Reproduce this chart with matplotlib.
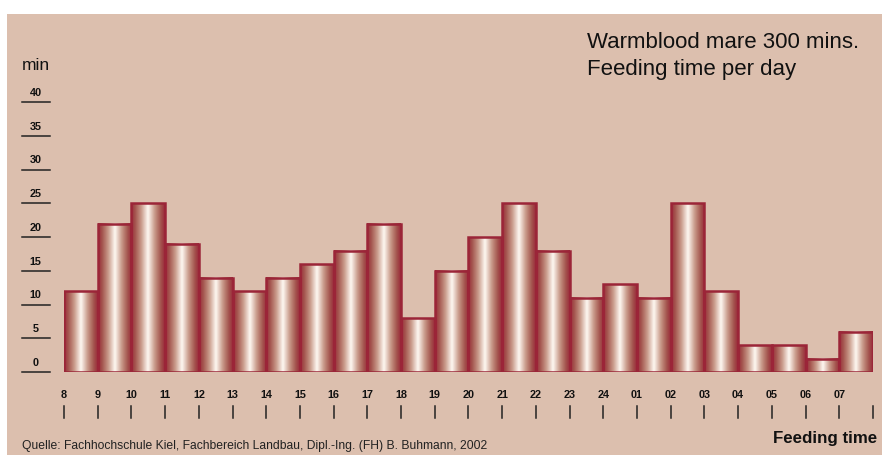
import numpy as np
import matplotlib
matplotlib.use('Agg')
import matplotlib.pyplot as plt
from matplotlib.colors import LinearSegmentedColormap
from matplotlib.patches import Rectangle
import matplotlib.transforms as mtransforms

# Daten: Fresszeit pro Stunde (Minuten)
hours = ['8', '9', '10', '11', '12', '13', '14', '15', '16', '17', '18', '19',
         '20', '21', '22', '23', '24', '01', '02', '03', '04', '05', '06', '07']
minutes = [12, 22, 25, 19, 14, 12, 14, 16, 18, 22, 8, 15,
           20, 25, 18, 11, 13, 11, 25, 12, 4, 4, 2, 6]
yticks = [0, 5, 10, 15, 20, 25, 30, 35, 40]

bg = '#dcbfae'
edge = '#9b2538'
grad = LinearSegmentedColormap.from_list('bar', [
    (0.0, '#9a2a3a'), (0.12, '#a4564f'), (0.3, '#c99a8a'),
    (0.5, '#fffaf4'), (0.7, '#c99a8a'), (0.88, '#a4564f'), (1.0, '#9a2a3a')])

plt.rcParams['font.family'] = ['Liberation Sans', 'DejaVu Sans']

fig = plt.figure(figsize=(8.82, 4.55), dpi=100, facecolor='white')
fig.patches.append(Rectangle((7 / 882, 0), 1, 1 - 14 / 455, transform=fig.transFigure,
                             facecolor=bg, edgecolor='none', zorder=-10))

ax = fig.add_axes([64 / 882, 83 / 455, 809 / 882, 270 / 455])

g = np.linspace(0, 1, 64).reshape(1, -1)
for i, v in enumerate(minutes):
    ax.imshow(g, cmap=grad, aspect='auto', extent=(i, i + 1, 0, v),
              interpolation='bicubic', zorder=2)
ax.bar(np.arange(len(hours)), minutes, width=1, align='edge', fill=False,
       edgecolor=edge, linewidth=1.8, zorder=3)
ax.set_xlim(0, len(hours))
ax.set_ylim(0, 40)
ax.axis('off')

# y-Achse: Zahlen mit Unterstrich
tr = mtransforms.blended_transform_factory(ax.transAxes, ax.transData)
for t in yticks:
    ax.plot([-0.052, -0.0175], [t, t], transform=tr, color='#222222',
            lw=1.1, clip_on=False)
    ax.text(-0.035, t + 1.35, str(t), transform=tr, ha='center', va='center',
            fontsize=7.8, fontweight='bold', color='#111111')

# x-Achse: Stunden und Striche
trx = mtransforms.blended_transform_factory(ax.transData, ax.transAxes)
for i, h in enumerate(hours):
    ax.text(i, -0.085, h, transform=trx, ha='center', va='center',
            fontsize=7.8, fontweight='bold', color='#111111')
for i in range(len(hours) + 1):
    ax.plot([i, i], [-0.125, -0.172], transform=trx, color='#222222',
            lw=1.1, clip_on=False)

fig.text(22 / 882, 1 - 66 / 455, 'min', fontsize=12.5, va='center', color='#111111')
fig.text(587 / 882, 1 - 42 / 455, 'Warmblood mare 300 mins.', fontsize=16,
         va='center', color='#111111')
fig.text(587 / 882, 1 - 69 / 455, 'Feeding time per day', fontsize=16,
         va='center', color='#111111')
fig.text(877 / 882, 1 - 438 / 455, 'Feeding time', fontsize=12.2, fontweight='bold',
         ha='right', va='center', color='#111111')
fig.text(22 / 882, 1 - 446 / 455,
         'Quelle: Fachhochschule Kiel, Fachbereich Landbau, Dipl.-Ing. (FH) B. Buhmann, 2002',
         fontsize=8.7, va='center', color='#222222')

fig.savefig('out.png', dpi=100, facecolor='white')
